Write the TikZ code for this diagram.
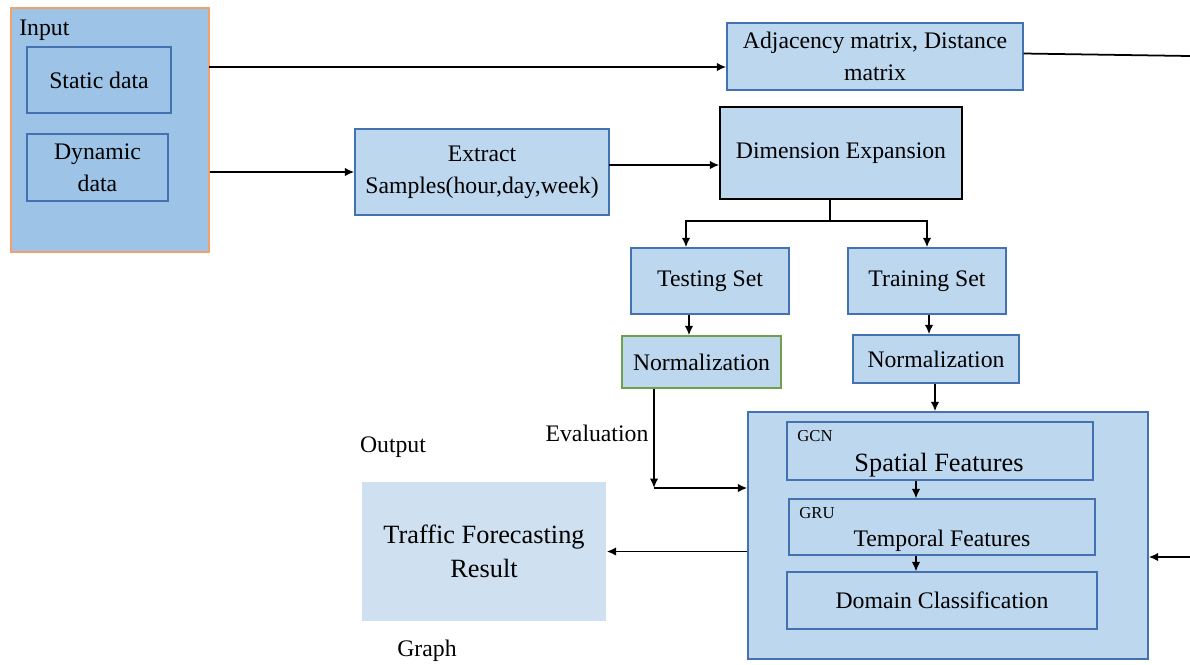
\documentclass[tikz,border=0pt]{standalone}
\usepackage{fontspec}
\setmainfont{Liberation Serif}
\usepackage{tikz}
\usetikzlibrary{positioning,arrows.meta}
\usepackage{xcolor}
\definecolor{boxfill}{RGB}{189,215,238}
\definecolor{inputfill}{RGB}{157,195,230}
\definecolor{outfill}{RGB}{207,224,241}
\definecolor{boxline}{RGB}{68,114,176}
\definecolor{inputline}{RGB}{241,160,110}
\definecolor{normline}{RGB}{112,160,71}

\tikzset{
  blk/.style={rectangle,draw=boxline,fill=boxfill,line width=0.8pt,inner sep=0pt,
    align=center,font=\fontsize{13.5}{18}\selectfont},
  inblk/.style={blk,fill=none},
  arr/.style={-{Latex[length=1.9mm,width=1.7mm]},line width=1pt},
  lbl/.style={font=\fontsize{13.5}{18}\selectfont,inner sep=0pt},
  tag/.style={font=\fontsize{9.5}{11}\selectfont,inner sep=0pt,anchor=west}
}

\begin{document}
\begin{tikzpicture}[x=0.02cm,y=-0.02cm]
\useasboundingbox (0,0) rectangle (1190,664);

% input side
\node[blk,fill=inputfill,draw=inputline,minimum width=3.96cm,minimum height=4.88cm] (input) at (110,130) {};
\node[lbl,anchor=west] (inlbl) at (19,30) {Input};
\node[inblk,minimum width=2.88cm,minimum height=1.32cm] (static) at (99,80) {Static data};
\node[inblk,minimum width=2.82cm,minimum height=1.34cm] (dynamic) at (97.5,167.5) {Dynamic\\data};

% preprocessing
\node[blk,minimum width=5.92cm,minimum height=1.34cm] (adj) at (875,56.5) {Adjacency matrix, Distance\\matrix};
\node[blk,minimum width=5.08cm,minimum height=1.72cm] (extract) at (482,172) {Extract\\Samples(hour,day,week)};
\node[blk,draw=black,minimum width=4.84cm,minimum height=1.84cm] (dimexp) at (841,153) {Dimension Expansion};
\node[blk,minimum width=3.16cm,minimum height=1.32cm] (testset) at (710,281) {Testing Set};
\node[blk,minimum width=3.16cm,minimum height=1.32cm] (trainset) at (927,281) {Training Set};
\node[blk,draw=normline,minimum width=3.18cm,minimum height=1.04cm] (normtest) at (701.5,362) {Normalization};
\node[blk,minimum width=3.32cm,minimum height=0.96cm] (normtrain) at (936,359) {Normalization};

% model
\node[blk,minimum width=8cm,minimum height=4.94cm] (model) at (948,535.5) {};
\node[inblk,minimum width=6.12cm,minimum height=1.16cm] (gcn) at (940,451) {};
\node[tag] (gcnlbl) at (797,436) {GCN};
\node[lbl,font=\fontsize{15}{18}\selectfont] (spatial) at (939,465) {Spatial Features};
\node[inblk,minimum width=6.12cm,minimum height=1.12cm] (gru) at (942,527) {};
\node[tag] (grulbl) at (799,513) {GRU};
\node[lbl] (temporal) at (942,541) {Temporal Features};
\node[inblk,minimum width=6.2cm,minimum height=1.14cm] (domain) at (942,600.5) {Domain Classification};

% output
\node[blk,draw=none,fill=outfill,minimum width=4.88cm,minimum height=2.78cm,
  font=\fontsize{15}{19}\selectfont] (result) at (484,551.5) {Traffic Forecasting\\Result};
\node[lbl] (outlbl) at (393,447) {Output};
\node[lbl] (graphlbl) at (427,651) {Graph};
\node[lbl] (evallbl) at (597,433) {Evaluation};

\coordinate (rtop) at (1190,56);
\coordinate (rbot) at (1190,557);
\coordinate (split) at (830,221);
\coordinate (evalpt) at (654,488);
\coordinate (inout) at (209,67);
\coordinate (exout) at (609,165);

% connectors
\draw[arr] (inout) -- (adj.west |- inout);
\draw[arr] (input.east |- extract.west) -- (extract.west);
\draw[arr] (exout) -- (dimexp.west |- exout);
\draw[line width=1pt] (adj.east) ++(0,-3) -- (rtop);
\draw[line width=1pt] (dimexp.south -| split) -- (split);
\draw[arr] (split) -| (testset.north -| 686,0);
\draw[arr] (split) -| (trainset.north -| 927,0);
\draw[arr] (testset.south -| 689,0) -- (normtest.north -| 689,0);
\draw[arr] (trainset.south -| 929,0) -- (normtrain.north -| 929,0);
\draw[arr] (normtrain.south -| 935,0) -- (model.north -| 935,0);
\draw[arr] (normtest.south -| evalpt) -- (evalpt);
\draw[arr] (evalpt) -- (model.west |- evalpt);
\draw[arr] (rbot) -- (model.east |- rbot);
\draw[arr] (model.west |- result.east) -- (result.east);
\draw[arr,line width=0.8pt] (gcn.south -| 916,0) -- (gru.north -| 916,0);
\draw[arr,line width=0.8pt] (gru.south -| 916,0) -- (domain.north -| 916,0);
\end{tikzpicture}
\end{document}
